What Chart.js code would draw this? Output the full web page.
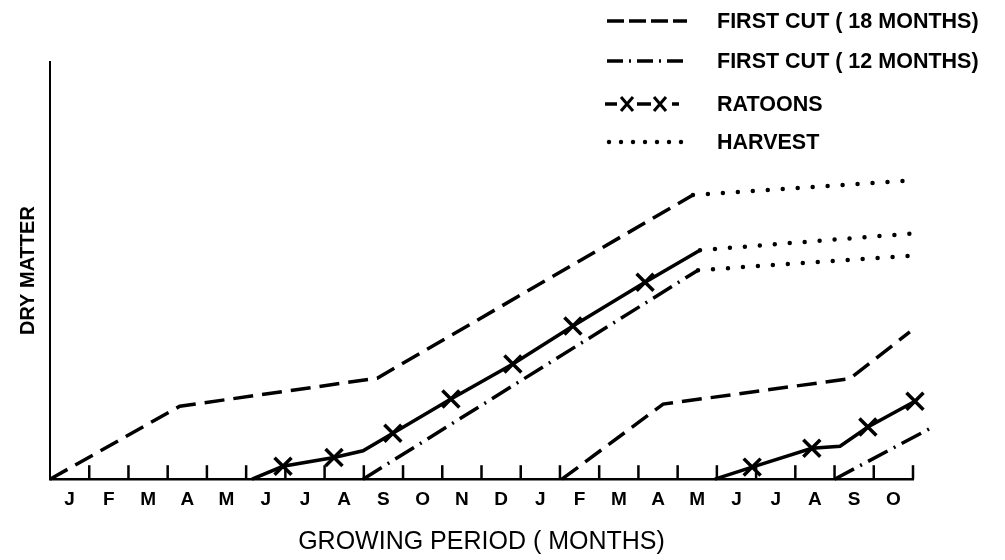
<!DOCTYPE html>
<html>
<head>
<meta charset="utf-8">
<script src="https://cdn.jsdelivr.net/npm/chart.js@4.4.0/dist/chart.umd.min.js"></script>
<style>
html, body { margin: 0; padding: 0; background: #fff; }
#wrap { width: 1005px; height: 560px; position: relative; }
</style>
</head>
<body>
<div id="wrap"><canvas id="chart"></canvas></div>
<script>
// 22 months, Jan of year 1 to Oct of year 2
const monthLabels = ["J","F","M","A","M","J","J","A","S","O","N","D","J","F","M","A","M","J","J","A","S","O"]

// x in months from the start of the first January, y in arbitrary dry matter units (0-100)
// first cut (18 months): two plantings
const cut18aX = [0, 3.31, 8.34, 16.39, 22.1]
const cut18aY = [0, 17.5, 24.2, 68.1, 71.7]
const cut18bX = [13.05, 15.63, 20.39, 21.92]
const cut18bY = [0, 18.0, 24.1, 35.3]

// first cut (12 months)
const cut12aX = [7.98, 16.52, 22.13]
const cut12aY = [0, 50.1, 53.7]
const cut12bX = [20.0, 22.5]
const cut12bY = [0, 12.5]

// ratoons, 1 = point drawn with an X
const ratoonAX = [5.15, 5.94, 7.24, 7.98, 8.74, 10.22, 11.8, 13.33, 15.17, 16.57, 22.13]
const ratoonAY = [0, 3.1, 5.2, 6.8, 11.0, 19.2, 27.6, 36.7, 47.2, 54.9, 59.0]
const ratoonAMarks = [0, 1, 1, 0, 1, 1, 1, 1, 1, 0, 0]
const ratoonBX = [16.95, 17.9, 19.42, 20.14, 20.85, 22.05]
const ratoonBY = [0, 2.9, 7.4, 7.9, 12.5, 18.7]
const ratoonBMarks = [0, 1, 1, 0, 1, 1]

// index of the point where the harvest (dotted) part begins
const harvestFrom = { cut18a: 3, cut12a: 1, ratoonA: 9 }

const legendNames = ["FIRST CUT ( 18 MONTHS)", "FIRST CUT ( 12 MONTHS)", "RATOONS", "HARVEST"]

const dashed = [20, 9]
const dashDot = [22, 7, 2, 7]
const dotted = [0, 15]
const ink = "#000"
const fontFamily = "'Liberation Sans', Arial, sans-serif"

function series(xs, ys, dash, harvest, marks) {
    const ds = {
        data: xs.map((x, i) => ({ x: x, y: ys[i] })),
        borderColor: ink,
        borderWidth: 3.5,
        borderDash: dash,
        borderCapStyle: "butt",
        fill: false,
        tension: 0,
        clip: false,
        pointStyle: "crossRot",
        pointRadius: marks ? marks.map(m => m ? 12 : 0) : 0,
        pointBorderWidth: 3.5,
        pointBorderColor: ink,
        pointBackgroundColor: ink
    }
    if (harvest != null) {
        ds.segment = {
            borderDash: c => c.p0DataIndex >= harvest ? dotted : undefined,
            borderCapStyle: c => c.p0DataIndex >= harvest ? "round" : undefined,
            borderWidth: c => c.p0DataIndex >= harvest ? 4.5 : undefined
        }
    }
    return ds
}

// short month ticks that stand up from the x axis
const monthTicks = {
    id: "monthTicks",
    afterDraw(chart) {
        const ctx = chart.ctx
        const x = chart.scales.x
        const bottom = chart.chartArea.bottom
        ctx.save()
        ctx.strokeStyle = ink
        ctx.lineWidth = 2.5
        for (let i = 1; i <= monthLabels.length; i++) {
            const px = x.getPixelForValue(i)
            ctx.beginPath()
            ctx.moveTo(px, bottom)
            ctx.lineTo(px, bottom - 14)
            ctx.stroke()
        }
        ctx.restore()
    }
}

// legend in the top right, drawn like the original key
const keyLegend = {
    id: "keyLegend",
    afterDraw(chart) {
        const ctx = chart.ctx
        const rows = [21, 61, 104, 142]
        const x0 = 607, x1 = 687, textX = 717
        ctx.save()
        ctx.strokeStyle = ink
        ctx.fillStyle = ink
        ctx.lineWidth = 3.5

        const line = (a, b, y, dash, cap) => {
            ctx.setLineDash(dash)
            ctx.lineCap = cap || "butt"
            ctx.beginPath()
            ctx.moveTo(a, y)
            ctx.lineTo(b, y)
            ctx.stroke()
        }
        line(x0, x1, rows[0], [17, 5])
        line(x0, x1, rows[1], [16, 6, 2, 6])

        line(605, 617, rows[2], [])
        line(637, 651, rows[2], [])
        line(672, 679, rows[2], [])
        ctx.lineWidth = 3
        for (const cx of [627, 660]) {
            ctx.beginPath()
            ctx.moveTo(cx - 6, rows[2] - 7)
            ctx.lineTo(cx + 6, rows[2] + 7)
            ctx.moveTo(cx + 6, rows[2] - 7)
            ctx.lineTo(cx - 6, rows[2] + 7)
            ctx.stroke()
        }
        ctx.setLineDash([])
        for (let i = 0; i < 7; i++) {
            ctx.beginPath()
            ctx.arc(609 + i * 12, rows[3], 2.2, 0, Math.PI * 2)
            ctx.fill()
        }

        ctx.font = "bold 21.5px " + fontFamily
        ctx.textBaseline = "middle"
        ctx.textAlign = "left"
        legendNames.forEach((name, i) => ctx.fillText(name, textX, rows[i] + 1))
        ctx.restore()
    }
}

new Chart(document.getElementById("chart"), {
    type: "line",
    data: {
        datasets: [
            series(cut18aX, cut18aY, dashed, harvestFrom.cut18a),
            series(cut18bX, cut18bY, dashed),
            series(cut12aX, cut12aY, dashDot, harvestFrom.cut12a),
            series(cut12bX, cut12bY, dashDot),
            series(ratoonAX, ratoonAY, [], harvestFrom.ratoonA, ratoonAMarks),
            series(ratoonBX, ratoonBY, [], null, ratoonBMarks)
        ]
    },
    options: {
        responsive: true,
        maintainAspectRatio: false,
        animation: false,
        layout: { padding: { top: 62, right: 92, bottom: 0, left: 0 } },
        plugins: {
            legend: { display: false },
            tooltip: { enabled: false }
        },
        scales: {
            x: {
                type: "linear",
                min: 0,
                max: 22,
                afterBuildTicks: scale => {
                    scale.ticks = monthLabels.map((m, i) => ({ value: i + 0.5 }))
                },
                ticks: {
                    callback: (value, index) => monthLabels[index],
                    autoSkip: false,
                    maxRotation: 0,
                    padding: 9,
                    color: ink,
                    font: { family: fontFamily, weight: "bold", size: 19 }
                },
                grid: { display: false, drawTicks: false },
                border: { display: true, color: ink, width: 2.5 },
                title: {
                    display: true,
                    text: "GROWING PERIOD ( MONTHS)",
                    color: ink,
                    font: { family: fontFamily, size: 25 },
                    padding: { top: 7, bottom: 3 }
                }
            },
            y: {
                type: "linear",
                min: 0,
                max: 100,
                ticks: { display: false },
                grid: { display: false, drawTicks: false },
                border: { display: true, color: ink, width: 2 },
                title: {
                    display: true,
                    text: "DRY MATTER",
                    color: ink,
                    font: { family: fontFamily, weight: "bold", size: 20 },
                    padding: { top: 16, bottom: 10 }
                }
            }
        }
    },
    plugins: [monthTicks, keyLegend]
})
</script>
</body>
</html>
